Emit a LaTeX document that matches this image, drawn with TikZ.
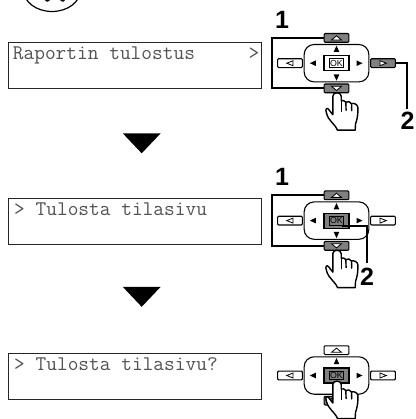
\documentclass[tikz,border=0pt]{standalone}
\usepackage{fontspec}
\setmainfont{Liberation Sans}
\begin{document}
\begin{tikzpicture}[x=1pt,y=-1pt,
  screen/.style={draw=black!85,line width=1pt,minimum width=253pt,minimum height=45.5pt,inner sep=0pt,anchor=north west},
  lcd/.style={inner sep=0pt,anchor=base west,text=black!68,font=\fontsize{20.8}{20.8}\selectfont\ttfamily},
  key/.style={draw=black,line width=1.1pt,rounded corners=1pt,inner sep=0pt,minimum width=24.7pt,minimum height=8.8pt},
  padbox/.style={draw=black,line width=1.1pt,rounded corners=10pt,inner sep=0pt,minimum width=64.7pt,minimum height=37.4pt},
  okouter/.style={draw=black,line width=1.1pt,inner sep=0pt,minimum width=25pt,minimum height=15pt},
  okinner/.style={draw=black,line width=0.9pt,inner sep=0pt,minimum width=14.5pt,minimum height=8.7pt,font=\fontsize{8.8}{8.8}\selectfont},
  callout/.style={font=\fontsize{25}{25}\selectfont\bfseries,inner sep=0pt},
  leader/.style={draw=black,line width=2.2pt},
  flowtri/.style={fill=black,draw=none},
  glyph/.style={draw=black,line width=0.8pt},
  hand/.style={draw=black,fill=white,line width=1.4pt,line join=round,line cap=round}]
\newcommand{\padgroup}[7]{%
  \begin{scope}[shift={(#2,#3)}]
    \node[padbox] (#1pad) at (0,0) {};
    \node[key,fill=#4] (#1up) at (0,-25.3) {};
    \node[key,fill=#5] (#1dn) at (0,25.2) {};
    \node[key] (#1lf) at (-46.5,0) {};
    \node[key,fill=#6] (#1rt) at (46.5,0) {};
    \node[okouter,fill=#7] (#1ok) at (0,0) {};
    \node[okinner,fill=#7] (#1oktext) at (0,0) {OK};
    \draw[glyph,fill=white] (-5,-23.2) -- (0,-27.4) -- (5,-23.2) -- cycle;
    \draw[glyph,fill=white] (-5,23.1) -- (0,27.3) -- (5,23.1) -- cycle;
    \draw[glyph,fill=white] (-43.5,-2.5) -- (-49.8,0) -- (-43.5,2.5) -- cycle;
    \draw[glyph,fill=white] (43.5,-2.5) -- (49.8,0) -- (43.5,2.5) -- cycle;
    \fill (0,-17.5) -- (2.8,-11.3) -- (-2.8,-11.3) -- cycle;
    \fill (0,17.5) -- (2.8,11.3) -- (-2.8,11.3) -- cycle;
    \fill (-26.7,0) -- (-20.7,-2.8) -- (-20.7,2.8) -- cycle;
    \fill (26,0) -- (20,-2.8) -- (20,2.8) -- cycle;
  \end{scope}}
\newcommand{\pointer}[2]{%
  \begin{scope}[shift={(#1,#2)}]
    \draw[hand] (-3.7,33) .. controls (-3.7,28.5) and (4.7,28.5) .. (4.7,33)
      -- (4.7,37.5) .. controls (6,37) and (8.5,37.3) .. (9.3,39)
      .. controls (11,38) and (14,38) .. (15,40.5)
      .. controls (17,39.5) and (21,41) .. (21.3,44)
      .. controls (21.7,50) and (21,55) .. (19,61) -- (18.7,67)
      -- (1,67) .. controls (-2,60) and (-8,58) .. (-10,50)
      .. controls (-11.5,46) and (-10,44) .. (-8,46)
      -- (-3.7,51.5) -- cycle;
    \draw[hand] (4.7,37.5) -- (4.7,48);
    \draw[hand] (9.3,39) -- (9.6,47);
    \draw[hand] (15,40.5) -- (15.2,47.5);
  \end{scope}}
\clip (0,0) rectangle (415,419);
\path[use as bounding box] (0,0) rectangle (415,419);
% mode key, cut off by the top edge
\draw[line width=1.2pt] (52,-10) ellipse [x radius=28.5pt,y radius=21.5pt];
\fill (45,0) -- (50,0) -- (48,1.6) -- (46.5,1.6) -- cycle;
\fill (60,0) -- (65,0) -- (63.5,1.6) -- (62,1.6) -- cycle;
% screens
\node[screen] (s1) at (8.3,42.4) {};
\node[screen] (s2) at (8.3,198.2) {};
\node[screen] (s3) at (8.3,353.2) {};
\node[lcd] (t1) at (12.7,60) {Raportin tulostus\ \ \ \ \ >};
\node[lcd] (t2) at (14,215) {> Tulosta tilasivu};
\node[lcd] (t3) at (14,370) {> Tulosta tilasivu?};
% flow triangles
\fill[flowtri] (122.7,133.3) -- (160.7,133.3) -- (141.7,153.3) -- cycle;
\fill[flowtri] (122.7,286.8) -- (160.7,286.8) -- (141.7,306.8) -- cycle;
% panels
\padgroup{a}{336.5}{63.2}{black!50}{black!50}{black!50}{white}
\padgroup{b}{336.5}{220.6}{black!50}{black!50}{white}{black!50}
\padgroup{c}{336.5}{375.5}{white}{black!50}{white}{black!50}
% callouts and leaders
\node[callout] (n1a) at (282,20) {1};
\node[callout] (n2a) at (407.5,121) {2};
\node[callout] (n1b) at (282,177) {1};
\node[callout] (n2b) at (367,277) {2};
\coordinate (ba) at (272.3,63.2);
\coordinate (bb) at (272.3,220.6);
\coordinate (ra) at (406.7,109);
\coordinate (rb) at (366.7,263);
\coordinate (okb) at (341.7,225.7);
\draw[leader] (aup.west) -| (ba) |- (adn.west);
\draw[leader] (bup.west) -| (bb) |- (bdn.west);
\draw[leader] (art.east) -| (ra);
\draw[leader] (okb) -| (rb);
% hands
\pointer{336.5}{63.2}
\pointer{336.5}{220.6}
\pointer{336.5}{351.5}
\end{tikzpicture}
\end{document}
